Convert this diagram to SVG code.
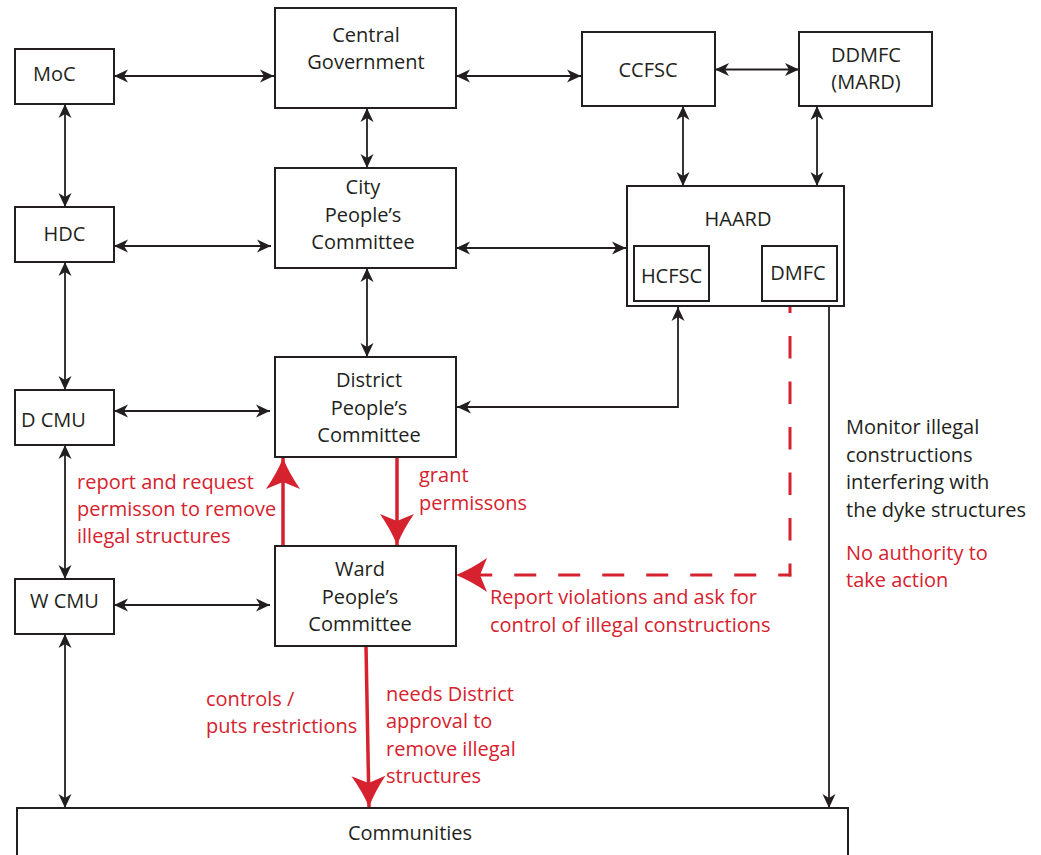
<svg xmlns="http://www.w3.org/2000/svg" width="1041" height="855" viewBox="0 0 1041 855">
  <style>
    .box { fill: #ffffff; stroke: #231f20; stroke-width: 2; }
    .lbl { font-family: "Open Sans", "Liberation Sans", sans-serif; font-size: 20px; fill: #231f20; }
    .mid { text-anchor: middle; }
    .red { fill: #d6222e; }
    .link { fill: none; stroke: #231f20; stroke-width: 1.8; }
    .both { marker-start: url(#ah); marker-end: url(#ah); }
    .one { marker-end: url(#ah); }
    .rline { fill: none; stroke: #d6222e; stroke-width: 3.5; }
    .rhead { marker-end: url(#rah); }
    .dash { stroke-width: 3; }
  </style>
  <defs>
    <marker id="ah" markerUnits="userSpaceOnUse" viewBox="-16 -8 17 16" refX="0" refY="0" markerWidth="17" markerHeight="16" orient="auto-start-reverse">
      <path d="M0,0 L-14,-6.5 L-10,0 L-14,6.5 Z" fill="#231f20"/>
    </marker>
    <marker id="rah" markerUnits="userSpaceOnUse" viewBox="-33 -19 34 38" refX="0" refY="0" markerWidth="34" markerHeight="38" orient="auto">
      <path d="M0,0 Q-15,-6 -31,-17 L-24,0 L-31,17 Q-15,6 0,0 Z" fill="#d6222e"/>
    </marker>
  </defs>

  <!-- connectors -->
  <g id="connectors">
    <path class="link both" d="M114,76 H274"/>
    <path class="link both" d="M456,76 H581"/>
    <path class="link both" d="M715,69.5 H799"/>
    <path class="link both" d="M65,104 V207"/>
    <path class="link both" d="M367,108 V168"/>
    <path class="link both" d="M683,106 V186"/>
    <path class="link both" d="M817,106 V186"/>
    <path class="link both" d="M114,246 H271"/>
    <path class="link both" d="M456,248 H626"/>
    <path class="link both" d="M65,262 V390"/>
    <path class="link both" d="M367,268 V357"/>
    <path class="link both" d="M114,411 H270"/>
    <path class="link both" d="M457,407 H678 V307"/>
    <path class="link both" d="M65,445 V579"/>
    <path class="link both" d="M114,605 H270"/>
    <path class="link both" d="M65,634 V808"/>
    <path class="link one" d="M829,306 V808"/>

    <path class="rline rhead" d="M283,546 V458"/>
    <path class="rline rhead" d="M397,457 V545"/>
    <!-- dashed report line from DMFC down and across to the ward committee -->
    <path class="rline dash" d="M790,302 V576.5" stroke-dasharray="22.5 23" stroke-dashoffset="11.5"/>
    <path class="rline dash rhead" d="M791.25,575 H456" stroke-dasharray="22 22" stroke-dashoffset="9"/>
    <path class="rline rhead" d="M366,646 L369,807"/>
  </g>

  <!-- nodes -->
  <g id="moc">
    <rect class="box" x="15" y="49" width="99" height="55"/>
    <text class="lbl" x="33" y="81">MoC</text>
  </g>
  <g id="central-government">
    <rect class="box" x="275" y="8" width="181" height="100"/>
    <text class="lbl mid" x="366" y="42">Central</text>
    <text class="lbl mid" x="366" y="69">Government</text>
  </g>
  <g id="ccfsc">
    <rect class="box" x="582" y="32" width="133" height="74"/>
    <text class="lbl mid" x="648" y="77">CCFSC</text>
  </g>
  <g id="ddmfc">
    <rect class="box" x="799" y="32" width="133" height="74"/>
    <text class="lbl mid" x="866" y="62">DDMFC</text>
    <text class="lbl mid" x="866" y="89">(MARD)</text>
  </g>
  <g id="hdc">
    <rect class="box" x="15" y="207" width="99" height="55"/>
    <text class="lbl mid" x="64.5" y="241">HDC</text>
  </g>
  <g id="city-pc">
    <rect class="box" x="275" y="168" width="181" height="100"/>
    <text class="lbl mid" x="363" y="194">City</text>
    <text class="lbl mid" x="363" y="222">People’s</text>
    <text class="lbl mid" x="363" y="249">Committee</text>
  </g>
  <g id="haard">
    <rect class="box" x="627" y="186" width="217" height="120"/>
    <text class="lbl mid" x="738" y="226">HAARD</text>
  </g>
  <g id="hcfsc">
    <rect class="box" x="634" y="246" width="75" height="55"/>
    <text class="lbl mid" x="671.5" y="283">HCFSC</text>
  </g>
  <g id="dmfc">
    <rect class="box" x="762" y="246" width="75" height="55"/>
    <text class="lbl mid" x="798" y="280">DMFC</text>
  </g>
  <g id="d-cmu">
    <rect class="box" x="15" y="390" width="99" height="55"/>
    <text class="lbl" x="21" y="427">D CMU</text>
  </g>
  <g id="district-pc">
    <rect class="box" x="275" y="357" width="181" height="100"/>
    <text class="lbl mid" x="369" y="387">District</text>
    <text class="lbl mid" x="369" y="415">People’s</text>
    <text class="lbl mid" x="369" y="442">Committee</text>
  </g>
  <g id="w-cmu">
    <rect class="box" x="15" y="579" width="99" height="55"/>
    <text class="lbl mid" x="64.5" y="608">W CMU</text>
  </g>
  <g id="ward-pc">
    <rect class="box" x="275" y="546" width="181" height="100"/>
    <text class="lbl mid" x="360" y="576">Ward</text>
    <text class="lbl mid" x="360" y="604">People’s</text>
    <text class="lbl mid" x="360" y="631">Committee</text>
  </g>
  <g id="communities">
    <rect class="box" x="17" y="808" width="831" height="70"/>
    <text class="lbl mid" x="410" y="840">Communities</text>
  </g>

  <!-- annotations -->
  <g id="notes">
    <text class="lbl red" x="77" y="489">report and request</text>
    <text class="lbl red" x="77" y="516">permisson to remove</text>
    <text class="lbl red" x="77" y="543">illegal structures</text>

    <text class="lbl red" x="419" y="482">grant</text>
    <text class="lbl red" x="419" y="510">permissons</text>

    <text class="lbl red" x="490" y="604">Report violations and ask for</text>
    <text class="lbl red" x="490" y="632">control of illegal constructions</text>

    <text class="lbl" x="846" y="434">Monitor illegal</text>
    <text class="lbl" x="846" y="462">constructions</text>
    <text class="lbl" x="846" y="489">interfering with</text>
    <text class="lbl" x="846" y="517">the dyke structures</text>
    <text class="lbl red" x="846" y="560">No authority to</text>
    <text class="lbl red" x="846" y="587">take action</text>

    <text class="lbl red" x="206" y="706">controls /</text>
    <text class="lbl red" x="206" y="733">puts restrictions</text>

    <text class="lbl red" x="386" y="701">needs District</text>
    <text class="lbl red" x="386" y="728">approval to</text>
    <text class="lbl red" x="386" y="756">remove illegal</text>
    <text class="lbl red" x="386" y="783">structures</text>
  </g>
</svg>
